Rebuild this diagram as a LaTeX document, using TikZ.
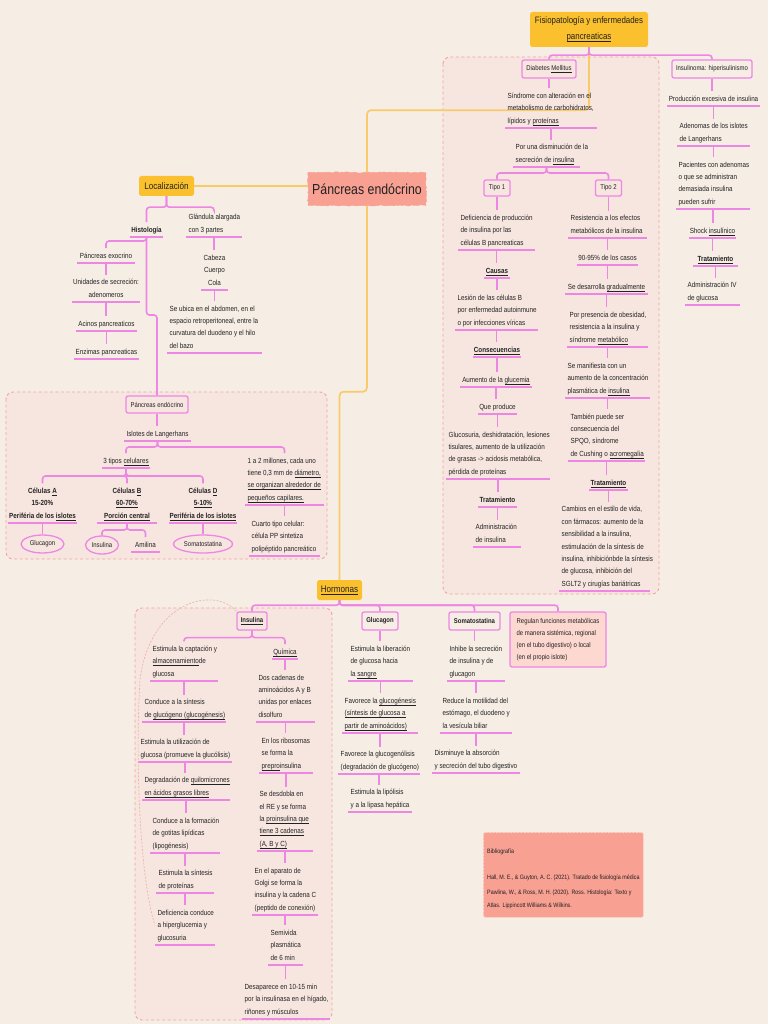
\documentclass[tikz,border=0pt]{standalone}
\usepackage{fontspec}
\setmainfont{Liberation Sans}[FakeStretch=0.85]
\usetikzlibrary{shapes.geometric,decorations.pathmorphing}
\definecolor{bgc}{HTML}{F6EDE5}
\definecolor{regc}{HTML}{F7E6E0}
\definecolor{regline}{HTML}{F1A69B}
\definecolor{pinkc}{HTML}{EE86E4}
\definecolor{orc}{HTML}{FBC02D}
\definecolor{orl}{HTML}{F8CB6A}
\definecolor{salc}{HTML}{F8A092}
\definecolor{regbox}{HTML}{FCD8D0}
\definecolor{txc}{HTML}{222222}
\definecolor{curvc}{HTML}{EDB5A8}
\newcommand\fs{\fontsize{7.4}{12.4}\selectfont}
\newcommand\ulx[1]{\setbox0=\hbox{#1}\rlap{\vrule height -1.3pt depth 2pt width \wd0}\box0}
\newcommand\itm[5]{%
  \node[itm, anchor=south west] (#1) at (#2,#4) {#5};
  \coordinate (#1b) at ({(#2+#3)/2},#4);
  \draw[bar] (#2,#4) -- (#3,#4);}
\newcommand\itc[5]{%
  \node[itm, align=center, anchor=south] (#1) at ({(#2+#3)/2},#4) {#5};
  \coordinate (#1b) at ({(#2+#3)/2},#4);
  \draw[bar] (#2,#4) -- (#3,#4);}
\newcommand\lk[2]{\draw[conn] (#1b) -- (#1b |- #2.north);}
\begin{document}
\begin{tikzpicture}[x=1pt,y=-1pt,
  itm/.style={font=\fs, text=txc, align=left, inner xsep=2.5pt, inner ysep=4.5pt, text depth=0pt},
  bar/.style={draw=pinkc, line width=1.7pt},
  conn/.style={draw=pinkc, line width=1.6pt, rounded corners=3pt},
  oconn/.style={draw=orl, line width=1.7pt, rounded corners=4pt},
  pbox/.style={draw=pinkc, line width=1.3pt, rounded corners=2pt, font=\fontsize{7}{12}\selectfont, text=txc, inner sep=1pt},
  obox/.style={fill=orc, rounded corners=2.5pt, font=\fontsize{9.5}{15}\selectfont, text=txc, align=center, inner sep=0pt},
  region/.style={draw=regline, dash pattern=on 3pt off 2.5pt, fill=regc, rounded corners=7pt, line width=0.9pt},
  ell/.style={ellipse, draw=pinkc, line width=1.3pt, font=\fontsize{7}{12}\selectfont, inner sep=0pt, text=txc},
  bibt/.style={font=\fontsize{6.3}{8}\selectfont, text=txc, inner sep=0pt},
  curvel/.style={draw=curvc, line width=0.7pt, dash pattern=on 2pt off 1.5pt}
]
\fill[bgc] (0,0) rectangle (768,1024);
\useasboundingbox (0,0) rectangle (768,1024);

% regions
\draw[region] (443,57) rectangle (659,594);
\draw[region] (6,392) rectangle (327,559);
\draw[region] (135,608) rectangle (332,1020);

% main boxes
\node[obox, minimum width=118pt, minimum height=35pt, font=\fontsize{9.3}{16}\selectfont] (fis) at (589,29.5) {Fisiopatología y enfermedades\\\ulx{pancreaticas}};
\node[draw=salc, fill=salc, decorate, decoration={random steps,segment length=2pt,amplitude=0.6pt}, minimum width=118pt, minimum height=33pt, font=\fontsize{14.5}{17}\selectfont, text=txc] (pe) at (367,189) {Páncreas endócrino};
\node[obox, minimum width=55pt, minimum height=20pt] (loc) at (166.5,186) {Localización};
\node[obox, minimum width=45pt, minimum height=20pt] (horm) at (339.5,590) {\ulx{Hormonas}};

\draw[oconn] (fis.south) -- ++(0,63) -| (pe.north);
\draw[oconn] (loc.east) -- (loc.east -| pe.west);
\draw[oconn] (pe.south) -- ++(0,186) -| (horm.north);

% ===== Diabetes
\node[pbox, minimum width=54pt, minimum height=18pt] (dm) at (549,69) {Diabetes \ulx{Mellitus}};
\node[pbox, minimum width=80pt, minimum height=18pt] (ins) at (712,69) {Insulinoma: hiperisulinismo};
\draw[conn] (fis.south) -- ++(0,8) -| (dm.north);
\draw[conn] (fis.south) -- ++(0,8) -| (ins.north);

\itm{sind}{505}{597}{128}{Síndrome con alteración en el\\metabolismo de carbohidratos,\\lípidos y \ulx{proteínas}}
\draw[conn] (dm.south) -- (dm.south |- sind.north);
\itm{dism}{513}{580}{167}{Por una disminución de la\\secreción de \ulx{insulina}}
\lk{sind}{dism}
\node[pbox, minimum width=26pt, minimum height=16pt] (t1) at (497,188) {Tipo 1};
\node[pbox, minimum width=26pt, minimum height=16pt] (t2) at (608.5,188) {Tipo 2};
\draw[conn] (dismb) -- ++(0,6) -| (t1.north);
\draw[conn] (dismb) -- ++(0,6) -| (t2.north);

% Tipo 1
\itm{def1}{458}{535}{250}{Deficiencia de producción\\de insulina por las\\células B pancreaticas}
\draw[conn] (t1.south) -- (t1.south |- def1.north);
\itc{caus}{484}{510}{278}{\textbf{\ulx{Causas}}}
\lk{def1}{caus}
\itm{les}{455}{538}{330}{Lesión de las células B\\por enfermedad autoinmune\\o por infecciones víricas}
\lk{caus}{les}
\itc{cons}{473}{521}{357}{\textbf{\ulx{Consecuencias}}}
\lk{les}{cons}
\itc{aum}{460}{532}{387}{Aumento de la \ulx{glucemia}}
\lk{cons}{aum}
\itc{que}{478}{517}{414}{Que produce}
\lk{aum}{que}
\itm{glu}{446}{550}{479}{Glucosuria, deshidratación, lesiones\\tisulares, aumento de la utilización\\de grasas -> acidosis metabólica,\\pérdida de proteínas}
\lk{que}{glu}
\itc{tr1}{478}{517}{507}{\textbf{Tratamiento}}
\lk{glu}{tr1}
\itm{adm1}{473}{521}{547}{Administración\\de insulina}
\lk{tr1}{adm1}

% Tipo 2
\itm{res}{568}{647}{238}{Resistencia a los efectos\\metabólicos de la insulina}
\draw[conn] (t2.south) -- (t2.south |- res.north);
\itc{p90}{577}{638}{265}{90-95\% de los casos}
\lk{res}{p90}
\itc{grad}{565}{648}{294}{Se desarrolla \ulx{gradualmente}}
\lk{p90}{grad}
\itm{obe}{567}{648}{347}{Por presencia de obesidad,\\resistencia a la insulina y\\síndrome \ulx{metabólico}}
\lk{grad}{obe}
\itm{man}{565}{650}{398}{Se manifiesta con un\\aumento de la concentración\\plasmática de \ulx{insulina}}
\lk{obe}{man}
\itm{tam}{568}{645}{461}{También puede ser\\consecuencia del\\SPQO, síndrome\\de Cushing o \ulx{acromegalia}}
\lk{man}{tam}
\itc{tr2}{589}{628}{490}{\textbf{\ulx{Tratamiento}}}
\lk{tam}{tr2}
\itm{cam}{559}{650}{591}{Cambios en el estilo de vida,\\con fármacos: aumento de la\\sensibilidad a la insulina,\\estimulación de la síntesis de\\insulina, inhibiciónbde la síntesis\\de glucosa, inhibición del\\SGLT2 y cirugías bariátricas}
\lk{tr2}{cam}

% Insulinoma
\itc{prod}{667}{760}{106}{Producción excesiva de insulina}
\draw[conn] (ins.south) -- (ins.south |- prod.north);
\itm{aden}{677}{750}{146}{Adenomas de los islotes\\de Langerhans}
\lk{prod}{aden}
\itm{pac}{676}{750}{209}{Pacientes con adenomas\\o que se administran\\demasiada insulina\\pueden sufrir}
\lk{aden}{pac}
\itc{shock}{689}{736}{238}{Shock \ulx{insulínico}}
\lk{pac}{shock}
\itc{tr3}{693}{738}{266}{\textbf{\ulx{Tratamiento}}}
\lk{shock}{tr3}
\itm{adiv}{685}{740}{305}{Administración IV\\de glucosa}
\lk{tr3}{adiv}

% ===== Localizacion
\itc{hist}{130}{163}{237}{\textbf{Histología}}
\itm{gland}{186}{242}{237}{Glándula alargada\\con 3 partes}
\draw[conn] (loc.south) -- ++(0,11) -| (hist.north);
\draw[conn] (loc.south) -- ++(0,11) -| (glandb |- gland.north);
\itc{exo}{77}{135}{263}{Páncreas exocrino}
\draw[conn] (histb) -- ++(0,4) -| (exo.north);
\itc{uni}{72}{140}{302}{Unidades de secreción:\\adenomeros}
\lk{exo}{uni}
\itc{aci}{76}{137}{331}{Acinos pancreaticos}
\lk{uni}{aci}
\itc{enz}{74}{139}{359}{Enzimas pancreaticas}
\lk{aci}{enz}
\itc{cab}{201}{228}{290}{Cabeza\\Cuerpo\\Cola}
\lk{gland}{cab}
\itm{ubi}{167}{262}{353}{Se ubica en el abdomen, en el\\espacio retroperitoneal, entre la\\curvatura del duodeno y el hilo\\del bazo}
\lk{cab}{ubi}

% ===== Endocrino
\node[pbox, minimum width=62pt, minimum height=17pt] (pend) at (157,404.5) {Páncreas endócrino};
\draw[conn] (histb) -- ++(0,78) -| (pend.north);
\itc{isl}{124}{191}{441}{Islotes de Langerhans}
\draw[conn] (pend.south) -- (pend.south |- isl.north);
\itc{tres}{102}{150}{468}{3 tipos \ulx{celulares}}
\itm{mil}{245}{324}{505}{1 a 2 millones, cada uno\\tiene 0,3 mm de \ulx{diámetro,}\\\ulx{se organizan alrededor de}\\\ulx{pequeños capilares.}}
\draw[conn] (islb) -- ++(0,6) -| (tres.north);
\draw[conn] (islb) -- ++(0,6) -| (milb |- mil.north);
\itc{cA}{8}{77}{523}{\textbf{Células \ulx{A}}\\\textbf{15-20\%}\\\textbf{Periféria de los \ulx{islotes}}}
\itc{cB}{97}{157}{523}{\textbf{Células \ulx{B}}\\\textbf{\ulx{60-70\%}}\\\textbf{\ulx{Porción central}}}
\itc{cD}{169}{237}{523}{\textbf{Células \ulx{D}}\\\textbf{\ulx{5-10\%}}\\\textbf{\ulx{Periféria de los islotes}}}
\draw[conn] (tresb) -- ++(0,8) -| (cA.north);
\draw[conn] (tresb) -- ++(0,8) -| (cB.north);
\draw[conn] (tresb) -- ++(0,8) -| (cD.north);
\node[ell, minimum width=43pt, minimum height=18pt] (glc) at (42.5,544) {Glucagon};
\node[ell, minimum width=33pt, minimum height=18pt] (ine) at (102,545) {Insulina};
\node[ell, minimum width=59pt, minimum height=18pt] (som) at (203,544) {Somatostatina};
\itc{ami}{131}{160}{552}{Amilina}
\draw[conn] (cAb) -- (glc.north);
\draw[conn] (cBb) -- ++(0,7) -| (ine.north);
\draw[conn] (cBb) -- ++(0,7) -| (ami.north);
\draw[conn] (cDb) -- (som.north);
\itm{cuar}{249}{320}{556}{Cuarto tipo celular:\\célula PP sintetiza\\polipéptido pancreático}
\lk{mil}{cuar}

% ===== Hormonas
\node[pbox, minimum width=30pt, minimum height=18pt] (insB) at (252,621) {\textbf{\ulx{Insulina}}};
\node[pbox, minimum width=36pt, minimum height=18pt] (gluB) at (380,621) {\textbf{Glucagon}};
\node[pbox, minimum width=51pt, minimum height=18pt] (somB) at (474.5,621) {\textbf{Somatostatina}};
\node[pbox, fill=regbox, align=left, minimum width=96pt, minimum height=55pt, inner sep=3pt] (reg) at (558,639.5) {Regulan funciones metabólicas\\de manera sistémica, regional\\(en el tubo digestivo) o local\\(en el propio islote)};
\draw[conn] (horm.south) -- ++(0,5) -| (insB.north);
\draw[conn] (horm.south) -- ++(0,5) -| (gluB.north);
\draw[conn] (horm.south) -- ++(0,5) -| (somB.north);
\draw[conn] (horm.south) -- ++(0,5) -| (reg.north);

% Insulina
\itm{est}{150}{218}{681}{Estimula la captación y\\\ulx{almacenamiento} de\\glucosa}
\itc{quim}{272}{298}{659}{\ulx{Química}}
\draw[conn] (insB.south) -- ++(0,7) -| (estb |- est.north);
\draw[conn] (insB.south) -- ++(0,7) -| (quim.north);
\itm{glucog}{142}{226}{722}{Conduce a la síntesis\\de \ulx{glucógeno (glucogénesis)}}
\lk{est}{glucog}
\itm{util}{138}{232}{762}{Estimula la utilización de\\glucosa (promueve la glucólisis)}
\lk{glucog}{util}
\itm{deg}{142}{230}{800}{Degradación de \ulx{quilomicrones}\\\ulx{en ácidos grasos libres}}
\lk{util}{deg}
\itm{form}{150}{220}{853}{Conduce a la formación\\de gotitas lipídicas\\(lipogénesis)}
\lk{deg}{form}
\itm{prot}{156}{214}{893}{Estimula la síntesis\\de proteínas}
\lk{form}{prot}
\itm{defc}{155}{215}{945}{Deficiencia conduce\\a hiperglucemia y\\glucosuria}
\lk{prot}{defc}
\itm{dos}{256}{315}{722}{Dos cadenas de\\aminoácidos A y B\\unidas por enlaces\\disolfuro}
\lk{quim}{dos}
\itm{ribo}{259}{313}{773}{En los ribosomas\\se forma la\\\ulx{prepro}insulina}
\lk{dos}{ribo}
\itm{desd}{257}{313}{851}{Se desdobla en\\el RE y se forma\\la \ulx{proinsulina que}\\\ulx{tiene 3 cadenas}\\\ulx{(A, B y C)}}
\lk{ribo}{desd}
\itm{golgi}{252}{318}{915}{En el aparato de\\Golgi se forma la\\insulina y la cadena C\\(peptido de conexión)}
\lk{desd}{golgi}
\itm{semi}{268}{303}{965}{Semivida\\plasmática\\de 6 min}
\lk{golgi}{semi}
\itm{desap}{242}{330}{1019}{Desaparece en 10-15 min\\por la insulinasa en el hígado,\\riñones y músculos}
\lk{semi}{desap}
\draw[curvel] (insB.north west) .. controls (215,586) and (150,600) .. (140,680) .. controls (135,760) and (140,880) .. (defc.west);

% Glucagon
\itm{lib}{348}{413}{681}{Estimula la liberación\\de glucosa hacia\\la \ulx{sangre}}
\draw[conn] (gluB.south) -- (gluB.south |- lib.north);
\itm{fav}{342}{418}{733}{Favorece la \ulx{glucogénesis}\\\ulx{(síntesis de glucosa a}\\\ulx{partir de aminoácidos)}}
\lk{lib}{fav}
\itm{favg}{338}{420}{774}{Favorece la glucogenólisis\\(degradación de glucógeno)}
\lk{fav}{favg}
\itm{lip}{348}{412}{812}{Estimula la lipólisis\\y a la lipasa hepática}
\lk{favg}{lip}

% Somatostatina
\itm{inh}{447}{505}{681}{Inhibe la secreción\\de insulina y de\\glucagon}
\draw[conn] (somB.south) -- (somB.south |- inh.north);
\itm{redu}{440}{512}{733}{Reduce la motilidad del\\estómago, el duodeno y\\la vesícula biliar}
\lk{inh}{redu}
\itm{dabs}{432}{520}{773}{Disminuye la absorción\\y secreción del tubo digestivo}
\lk{redu}{dabs}

% Bibliografia
\node[fill=salc, draw=white!55!salc, dash pattern=on 2pt off 1.5pt, line width=0.8pt, rounded corners=2pt, minimum width=160pt, minimum height=85pt, anchor=north west, inner sep=0pt] (bib) at (483,832) {};
\node[bibt, anchor=base west] (bib1) at (487,853) {Bibliografía};
\node[bibt, anchor=base west] (bib2) at (487,879) {Hall, M. E., \& Guyton, A. C. (2021). Tratado de fisiología médica};
\node[bibt, anchor=base west] (bib3) at (487,894) {Pawlina, W., \& Ross, M. H. (2020). Ross. Histología: Texto y};
\node[bibt, anchor=base west] (bib4) at (487,907) {Atlas. Lippincott Williams \& Wilkins.};
\end{tikzpicture}
\end{document}
